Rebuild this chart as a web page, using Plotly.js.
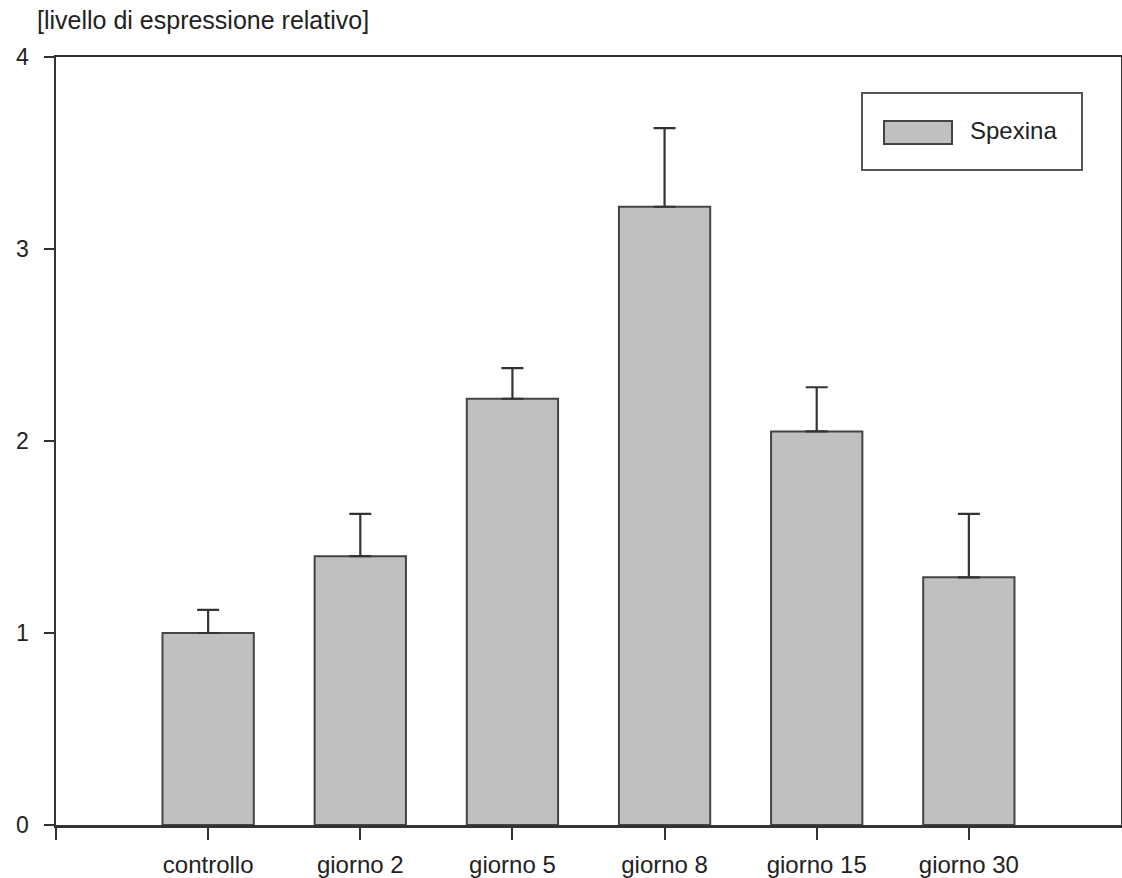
<!DOCTYPE html>
<html>
<head>
<meta charset="utf-8">
<script src="https://cdn.plot.ly/plotly-3.0.1.min.js"></script>
<style>html,body{margin:0;padding:0;background:#fff;}#chart{width:1122px;height:878px;}</style>
</head>
<body>
<div id="chart"></div>
<script>
const categories = ["controllo", "giorno 2", "giorno 5", "giorno 8", "giorno 15", "giorno 30"];
const values = [1.0, 1.40, 2.22, 3.22, 2.05, 1.29];
const errors = [0.12, 0.22, 0.16, 0.41, 0.23, 0.33];
const yTicks = [0, 1, 2, 3, 4];
const seriesName = "Spexina";

const idx = categories.map((c, i) => i);
const FONT = "Liberation Sans, Arial, sans-serif";

const trace = {
  type: "bar",
  x: idx,
  y: values,
  name: seriesName,
  width: 0.6,
  marker: { color: "#c0c0c0", line: { color: "#444", width: 2 } },
  error_y: {
    type: "data", array: errors, arrayminus: errors.map(() => 0), symmetric: false,
    visible: true, color: "#333", thickness: 2.2, width: 11
  },
  showlegend: false
};

const layout = {
  width: 1122, height: 878,
  margin: { l: 56, r: 1, t: 57, b: 53 },
  paper_bgcolor: "#fff", plot_bgcolor: "#fff",
  font: { family: FONT, color: "#222", size: 24 },
  title: {
    text: "[livello di espressione relativo]",
    xref: "container", yref: "container",
    x: 37 / 1122, xanchor: "left",
    y: 1 - 20 / 878, yanchor: "middle",
    font: { family: FONT, size: 25, color: "#222" }
  },
  xaxis: {
    type: "linear", range: [-1, 6],
    tickvals: [-1].concat(idx), ticktext: [""].concat(categories),
    ticks: "outside", ticklen: 12, tickwidth: 2, tickcolor: "#333",
    showline: true, linecolor: "#333", linewidth: 2.5, mirror: true,
    showgrid: false, zeroline: false,
    ticklabelstandoff: 5,
    tickfont: { family: FONT, size: 24, color: "#222" }
  },
  yaxis: {
    range: [0, 4], tickvals: yTicks,
    ticks: "outside", ticklen: 10, tickwidth: 2, tickcolor: "#333",
    showline: true, linecolor: "#333", linewidth: 2.5, mirror: true,
    showgrid: false, zeroline: false,
    ticklabelstandoff: 10,
    tickfont: { family: FONT, size: 23, color: "#222" }
  },
  shapes: [
    { type: "rect", xref: "paper", yref: "paper",
      x0: (862 - 56) / 1065, x1: (1082 - 56) / 1065,
      y0: (825 - 170) / 768, y1: (825 - 93) / 768,
      line: { color: "#555", width: 2 }, fillcolor: "#fff" },
    { type: "rect", xref: "paper", yref: "paper",
      x0: (884 - 56) / 1065, x1: (952 - 56) / 1065,
      y0: (825 - 144) / 768, y1: (825 - 121) / 768,
      line: { color: "#444", width: 2 }, fillcolor: "#c0c0c0" }
  ],
  annotations: [
    { text: seriesName, xref: "paper", yref: "paper",
      x: (968 - 56) / 1065, y: (825 - 130) / 768,
      xanchor: "left", yanchor: "middle", showarrow: false,
      font: { family: FONT, size: 24, color: "#222" } }
  ]
};

Plotly.newPlot("chart", [trace], layout, { displayModeBar: false, staticPlot: true });
</script>
</body>
</html>
